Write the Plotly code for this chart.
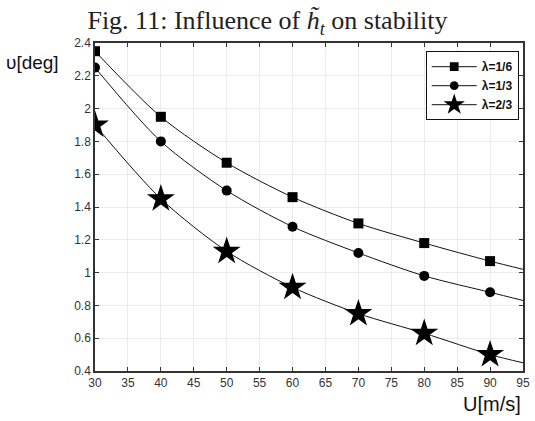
import plotly.graph_objects as go

u = [30, 40, 50, 60, 70, 80, 90, 95]
lam16 = [2.35, 1.95, 1.67, 1.46, 1.30, 1.18, 1.07, 1.02]
lam13 = [2.25, 1.80, 1.50, 1.28, 1.12, 0.98, 0.88, 0.83]
lam23 = [1.90, 1.45, 1.13, 0.91, 0.75, 0.63, 0.50, 0.45]
names = ["λ=1/6", "λ=1/3", "λ=2/3"]
symbols = ["square", "circle", "star"]
msizes = [10, 10, 21]

fig = go.Figure()
for ys, nm, sym, ms in zip([lam16, lam13, lam23], names, symbols, msizes):
    sizes = [ms] * (len(u) - 1) + [0]
    fig.add_trace(go.Scatter(
        x=u, y=ys, name=nm, mode="lines+markers",
        line=dict(color="#111", width=1, shape="spline", smoothing=0.8),
        marker=dict(symbol=sym, size=sizes, color="#000", opacity=1,
                    line=dict(width=0, color="#000")),
    ))

fig.update_layout(
    template="none",
    width=535, height=421,
    margin=dict(l=95, r=12, t=43, b=50),
    paper_bgcolor="white", plot_bgcolor="white",
    title=dict(
        text="Fig. 11: Influence of <i>h&#771;</i><sub><i>t</i></sub> on stability",
        x=0.5, xanchor="center", y=0.952, yanchor="middle",
        font=dict(family="Liberation Serif", size=26, color="#222"),
    ),
    showlegend=True,
    legend=dict(
        x=0.99, xanchor="right", y=0.975, yanchor="top",
        bgcolor="white", bordercolor="#111", borderwidth=1,
        font=dict(family="Liberation Sans", size=12, color="#111", weight="bold"),
        itemwidth=45, tracegroupgap=0,
    ),
    font=dict(family="Liberation Sans", size=12, color="#222"),
)
fig.update_xaxes(
    range=[30, 95], tick0=30, dtick=5, ticks="inside", ticklen=4, tickcolor="#333",
    showline=True, mirror="ticks", linecolor="#333", linewidth=1.5,
    showgrid=True, gridcolor="#ececec", gridwidth=1, zeroline=False,
    tickfont=dict(size=12, color="#333"),
)
fig.update_yaxes(
    range=[0.4, 2.4], tick0=0.4, dtick=0.2, ticks="inside", ticklen=4, tickcolor="#333",
    showline=True, mirror="ticks", linecolor="#333", linewidth=1.5,
    showgrid=True, gridcolor="#ececec", gridwidth=1, zeroline=False,
    tickfont=dict(size=12, color="#333"),
)
fig.add_annotation(text="υ[deg]", xref="paper", yref="paper", x=-0.213, y=0.94,
                   xanchor="left", yanchor="middle", showarrow=False,
                   font=dict(family="Liberation Sans", size=19, color="#111"))
fig.add_annotation(text="U[m/s]", xref="paper", yref="paper", x=1.0, y=-0.06,
                   xanchor="right", yanchor="top", showarrow=False,
                   font=dict(family="Liberation Sans", size=20, color="#111"))
fig.write_html("out.html")
